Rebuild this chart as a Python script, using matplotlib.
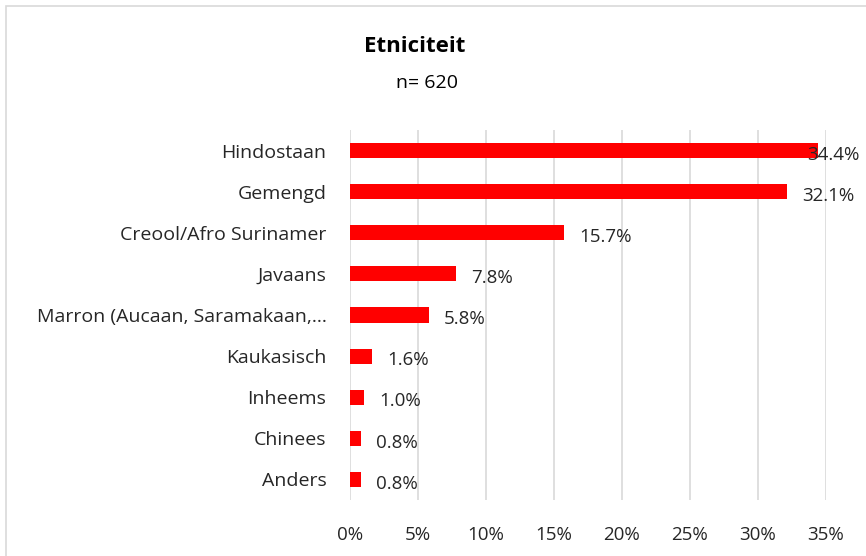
import numpy as np
import matplotlib.pyplot as plt
from matplotlib.patches import Rectangle
from matplotlib.ticker import FuncFormatter

# data
categories = ["Hindostaan", "Gemengd", "Creool/Afro Surinamer", "Javaans",
              "Marron (Aucaan, Saramakaan,…", "Kaukasisch", "Inheems",
              "Chinees", "Anders"]
values = [34.4, 32.1, 15.7, 7.8, 5.8, 1.6, 1.0, 0.8, 0.8]
x_ticks = [0, 5, 10, 15, 20, 25, 30, 35]

plt.rcParams['font.family'] = ['Open Sans', 'DejaVu Sans']

W, H = 866, 556
fig = plt.figure(figsize=(W / 100, H / 100), dpi=100)

# outer chart border
fig.patches.append(Rectangle((5.5 / W, -0.1), 1.2, 1 - 5.5 / H + 0.1,
                             transform=fig.transFigure, fill=False,
                             edgecolor="#d9d9d9", linewidth=1.2))

ax = fig.add_axes([350 / W, 1 - 500 / H, (826 - 350) / W, (500 - 130) / H])

y = np.arange(len(categories))
ax.barh(y, values, height=0.37, color="#ff0000")

for yi, v in zip(y, values):
    # label that would run past the chart edge is pulled back over the bar
    dx = -8 if v > 33 else 11
    ax.annotate(f"{v:.1f}%", (v, yi), xytext=(dx, -3), textcoords="offset points",
                ha="left", va="center", fontsize=13.5, color="#262626",
                annotation_clip=False)

ax.set_xlim(0, 35)
ax.set_ylim(len(categories) - 0.5, -0.5)
ax.set_yticks(y)
ax.set_yticklabels(categories)
ax.set_xticks(x_ticks)
ax.xaxis.set_major_formatter(FuncFormatter(lambda v, p: f"{v:.0f}%"))

ax.grid(axis="x", color="#d9d9d9", linewidth=1.2)
ax.set_axisbelow(True)
for s in ax.spines.values():
    s.set_visible(False)
ax.tick_params(axis="y", length=0, pad=17, labelsize=14, labelcolor="#262626")
ax.tick_params(axis="x", length=0, pad=19, labelsize=13.5, labelcolor="#262626")

fig.text(415 / W, 1 - 46 / H, "Etniciteit", ha="center", va="center",
         fontsize=16, fontweight="bold", color="#000000")
fig.text(427 / W, 1 - 83 / H, "n= 620", ha="center", va="center",
         fontsize=14, color="#000000")

fig.savefig("out.png", dpi=100)
